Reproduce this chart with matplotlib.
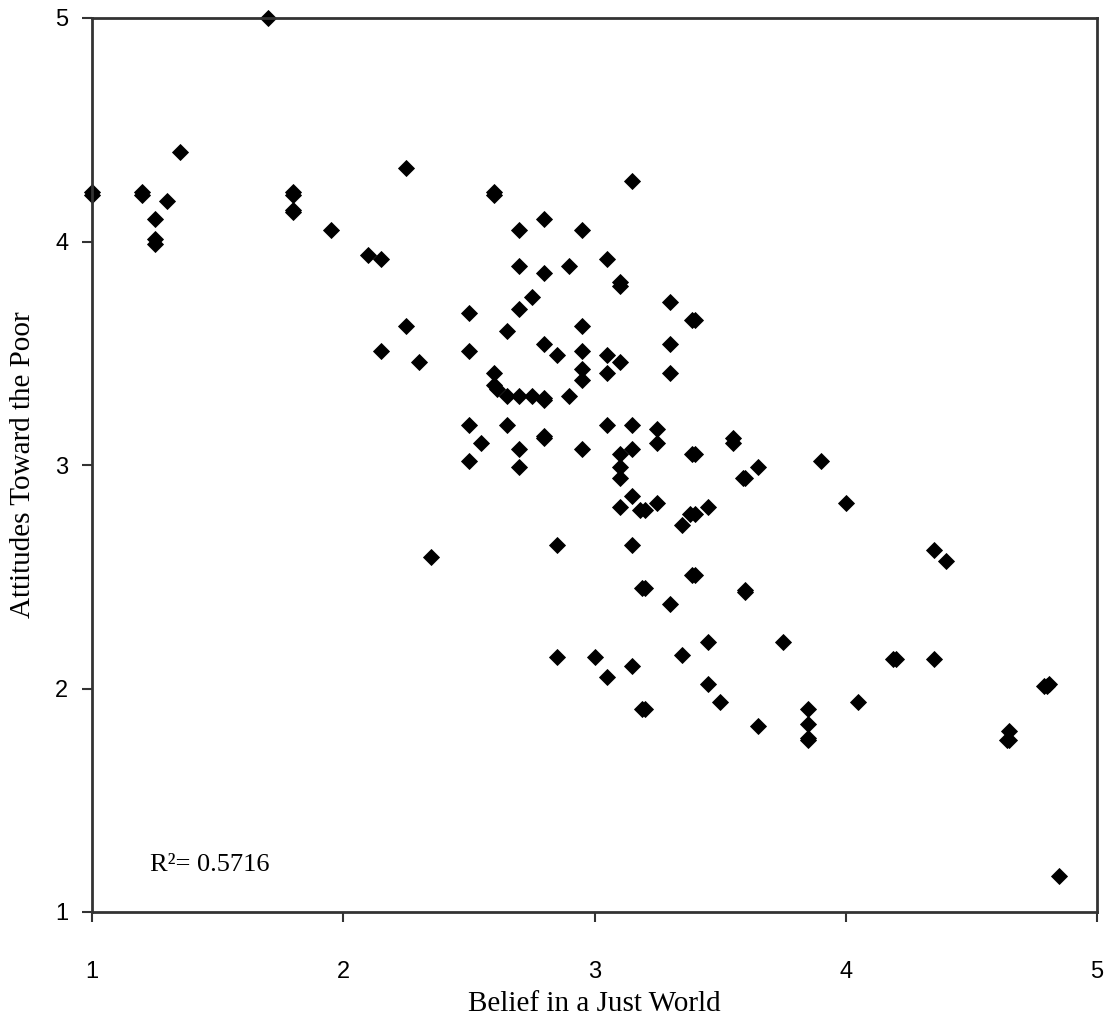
import matplotlib
matplotlib.use("Agg")
import matplotlib.pyplot as plt

belief = [1.7, 1.0, 1.0, 1.35, 1.2, 1.2, 1.3, 1.25, 1.25, 1.25, 1.8, 1.8, 1.8, 1.8,
          1.95, 2.1, 2.15, 2.25, 2.6, 2.6, 3.15, 2.8, 2.7, 2.95, 2.7, 2.8, 2.9, 3.05,
          3.1, 3.1, 2.75, 2.7, 3.3, 3.4, 3.39, 2.5, 2.25, 2.65, 2.95, 2.15, 2.5, 2.3,
          2.8, 2.85, 2.95, 3.05, 3.1, 3.3, 2.95, 2.95, 3.05, 3.3, 2.6, 2.6, 2.61,
          2.65, 2.7, 2.75, 2.8, 2.8, 2.9, 2.5, 2.65, 3.05, 3.15, 3.25, 3.25, 2.55,
          2.8, 2.8, 2.7, 2.95, 2.5, 2.7, 3.1, 3.15, 3.1, 3.1, 3.4, 3.39, 3.55, 3.55,
          3.15, 3.1, 3.18, 3.2, 3.25, 3.4, 3.38, 3.45, 3.35, 3.9, 3.65, 3.6, 3.59,
          4.0, 2.35, 2.85, 3.15, 3.4, 3.39, 3.2, 3.19, 3.3, 3.6, 3.6, 4.35, 4.4,
          3.45, 3.75, 3.35, 2.85, 3.0, 3.15, 3.05, 3.45, 3.5, 4.2, 4.19, 4.35,
          4.8, 4.79, 4.81, 3.2, 3.19, 3.65, 3.85, 3.85, 3.85, 3.85, 4.05, 4.65,
          4.65, 4.64, 4.85]
attitudes = [5.0, 4.21, 4.22, 4.4, 4.22, 4.21, 4.18, 4.10, 4.01, 3.99, 4.22, 4.21, 4.13, 4.14,
             4.05, 3.94, 3.92, 4.33, 4.22, 4.21, 4.27, 4.10, 4.05, 4.05, 3.89, 3.86, 3.89, 3.92,
             3.80, 3.82, 3.75, 3.70, 3.73, 3.65, 3.65, 3.68, 3.62, 3.60, 3.62, 3.51, 3.51, 3.46,
             3.54, 3.49, 3.51, 3.49, 3.46, 3.54, 3.43, 3.38, 3.41, 3.41, 3.41, 3.36, 3.34,
             3.31, 3.31, 3.31, 3.29, 3.30, 3.31, 3.18, 3.18, 3.18, 3.18, 3.16, 3.10, 3.10,
             3.13, 3.12, 3.07, 3.07, 3.02, 2.99, 3.05, 3.07, 2.99, 2.94, 3.05, 3.05, 3.10, 3.12,
             2.86, 2.81, 2.80, 2.80, 2.83, 2.78, 2.78, 2.81, 2.73, 3.02, 2.99, 2.94, 2.94,
             2.83, 2.59, 2.64, 2.64, 2.51, 2.51, 2.45, 2.45, 2.38, 2.43, 2.44, 2.62, 2.57,
             2.21, 2.21, 2.15, 2.14, 2.14, 2.10, 2.05, 2.02, 1.94, 2.13, 2.13, 2.13,
             2.01, 2.01, 2.02, 1.91, 1.91, 1.83, 1.91, 1.84, 1.77, 1.78, 1.94, 1.81,
             1.77, 1.77, 1.16]

x_ticks = [1, 2, 3, 4, 5]
y_ticks = [1, 2, 3, 4, 5]
x_label = "Belief in a Just World"
y_label = "Attitudes Toward the Poor"
r2_text = "R\u00b2= 0.5716"

tick_font = ['Liberation Sans Narrow', 'Liberation Sans', 'DejaVu Sans']
serif_font = ['Liberation Serif', 'DejaVu Serif']

fig = plt.figure(figsize=(11.07, 10.21), dpi=100)
ax = fig.add_axes([92/1107, 1 - 912/1021, (1097 - 92)/1107, (912 - 18)/1021])

ax.plot(belief, attitudes, linestyle='none', marker='D', markersize=7.8,
        color='black', markeredgewidth=0.6, clip_on=False)

ax.set_xlim(1, 5)
ax.set_ylim(1, 5)
ax.set_xticks(x_ticks)
ax.set_yticks(y_ticks)
ax.set_xticklabels([str(t) for t in x_ticks], family=tick_font, fontsize=17)
ax.set_yticklabels([str(t) for t in y_ticks], family=tick_font, fontsize=17)
ax.tick_params(axis='x', direction='out', length=7, width=1.5, color='#333333', pad=28)
ax.tick_params(axis='y', direction='out', length=7, width=1.5, color='#333333', pad=10)

for s in ax.spines.values():
    s.set_linewidth(2)
    s.set_color('#333333')

ax.set_xlabel(x_label, family=serif_font, fontsize=21, labelpad=6)
ax.set_ylabel(y_label, family=serif_font, fontsize=21, labelpad=14)

ax.text(1.23, 1.21, r2_text, family=serif_font, fontsize=19, ha='left', va='center')

fig.savefig("out.png", dpi=100, facecolor='white')
